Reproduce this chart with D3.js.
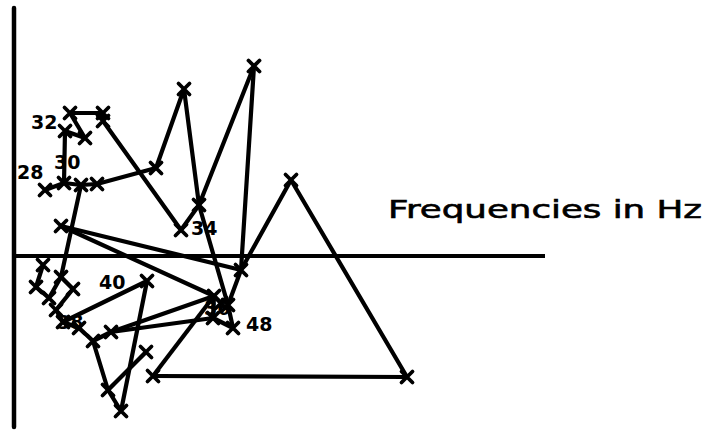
<!DOCTYPE html>
<html>
<head>
<meta charset="utf-8">
<script src="https://cdn.jsdelivr.net/npm/d3@7"></script>
<style>
    body { margin: 0; background: #fff; }
    svg { display: block; }
</style>
</head>
<body>
<svg id="canvas"></svg>
<script>
// Measured points (arbitrary units, origin at the axes crossing)
const PX = [6.2, 10, 13.4, 16.6, 28.4, 10.2, 14.2, 11.2, 17.8, 17.8,
            33.4, 37, 34, 48, 45.4, 55.4, 78.6, 27.8, 40, 9.4,
            42.8, 39.8, 43.8, 5.8, 4.4, 7, 11.8, 8.4, 9.8, 13,
            15.8, 19.4, 26.6, 18.8, 21.4, 26.4, 41.4, 9.4];
const PY = [13.2, 14.6, 14.2, 14.4, 17.6, 25, 23.6, 28.6, 28.6, 27,
            5.2, 10.2, 33.4, 38, -2.8, 15.2, -24.2, -24, -8, 6,
            -9.8, -12.4, -14.4, -1.8, -6.2, -8.4, -6.6, -10.8, -13.2, -14.4,
            -17, -15.2, -5, -26.8, -31, -19.2, -9.4, -4.2];

// Which points are joined
const LINKS = [
    [0, 1], [1, 2], [2, 3], [3, 4], [1, 5], [5, 6], [6, 7], [7, 8], [8, 9],
    [9, 10], [10, 11], [4, 12], [12, 11], [11, 13], [13, 14], [14, 15],
    [15, 16], [16, 17], [17, 18], [11, 20], [19, 14], [19, 18], [14, 20],
    [2, 37], [23, 24], [24, 25], [25, 37], [37, 26], [26, 27], [27, 28],
    [28, 29], [29, 30], [30, 31], [28, 32], [32, 34], [34, 33], [33, 35],
    [30, 33], [31, 18], [31, 21], [18, 21], [21, 22], [20, 22], [18, 36]
];

// Point labels
const LABELS = ["28", "30", "32", "34", "40", "38", "36", "48"];
const LABEL_X = [0.6, 8, 3.4, 35.4, 17, 8.6, 38, 46.4];
const LABEL_Y = [15.4, 17.4, 25.4, 4.2, -6.6, -14.6, -11.8, -15];

const width = 709;
const height = 434;
const originX = 14;

const canvas = d3.select("#canvas")
    .attr("width", width)
    .attr("height", height);

const xScale = d3.scaleLinear()
    .domain([0, 106.2])
    .range([originX, 545]);
const yScale = d3.scaleLinear()
    .domain([-34.2, 49.6])
    .range([427, 8]);

//Axes drawn as plain strokes
canvas.append("line")
    .attr("x1", xScale(0)).attr("x2", xScale(0))
    .attr("y1", yScale(49.6)).attr("y2", yScale(-34.2))
    .attr("stroke", "#000").attr("stroke-width", 4.5)
    .attr("stroke-linecap", "round");
canvas.append("line")
    .attr("x1", xScale(0)).attr("x2", xScale(106.2))
    .attr("y1", yScale(0)).attr("y2", yScale(0))
    .attr("stroke", "#000").attr("stroke-width", 4);

//Connecting lines
canvas.selectAll(".link")
    .data(LINKS)
    .enter()
    .append("line")
    .attr("class", "link")
    .attr("x1", d => xScale(PX[d[0]]))
    .attr("y1", d => yScale(PY[d[0]]))
    .attr("x2", d => xScale(PX[d[1]]))
    .attr("y2", d => yScale(PY[d[1]]))
    .attr("stroke", "#000")
    .attr("stroke-width", 4.2)
    .attr("stroke-linecap", "round");

//Cross marks
const r = 5.5;
const marks = canvas.selectAll(".mark")
    .data(PX)
    .enter()
    .append("g")
    .attr("class", "mark")
    .attr("transform", (d, i) => `translate(${xScale(d)}, ${yScale(PY[i])})`);
marks.append("path")
    .attr("d", `M${-r},${-r}L${r},${r}M${-r},${r}L${r},${-r}`)
    .attr("stroke", "#000")
    .attr("stroke-width", 3.8)
    .attr("stroke-linecap", "round");

//Labels
canvas.selectAll(".label")
    .data(LABELS)
    .enter()
    .append("text")
    .attr("class", "label")
    .attr("x", (d, i) => xScale(LABEL_X[i]))
    .attr("y", (d, i) => yScale(LABEL_Y[i]))
    .attr("font-family", "DejaVu Sans")
    .attr("font-weight", "bold")
    .attr("font-size", 19)
    .text(d => d);

canvas.append("text")
    .attr("x", 388)
    .attr("y", 218)
    .attr("font-family", "DejaVu Sans")
    .attr("font-size", 24)
    .attr("stroke", "#000")
    .attr("stroke-width", 0.6)
    .attr("textLength", 314)
    .attr("lengthAdjust", "spacingAndGlyphs")
    .text("Frequencies in Hz");
</script>
</body>
</html>
